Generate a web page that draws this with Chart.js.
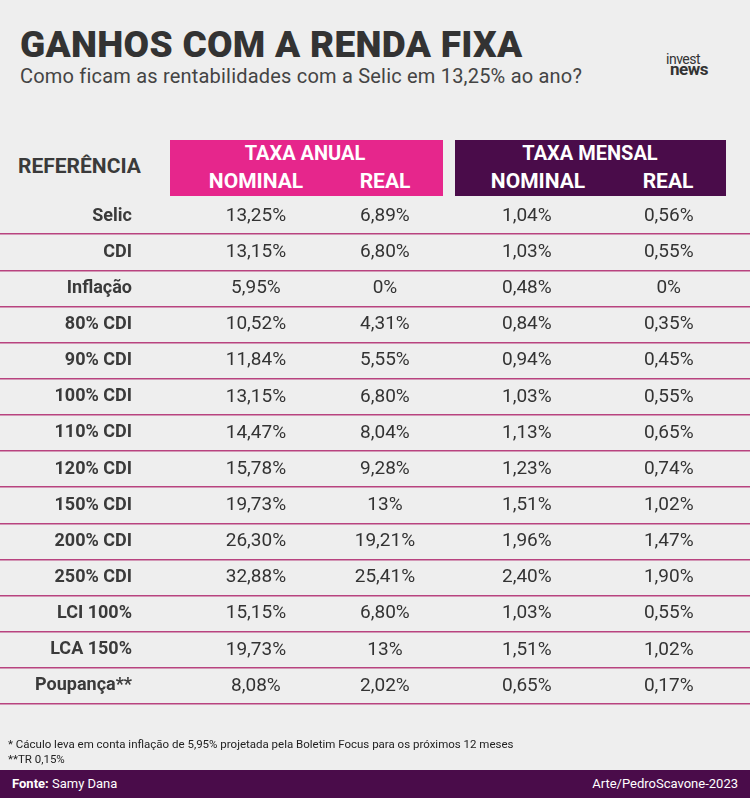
<!DOCTYPE html>
<html lang="pt-BR">
<head>
<meta charset="utf-8">
<script src="https://cdn.jsdelivr.net/npm/chart.js@4"></script>
<style>
  body { margin: 0; background: #ededed; }
  #wrap { position: relative; width: 750px; height: 798px; overflow: hidden; background: #eeeeee;
          font-family: 'Roboto', sans-serif; color: #333; }
  canvas { position: absolute; left: 0; top: 0; }
  .abs { position: absolute; white-space: nowrap; }
  .title { left: 20px; top: 23px; font-size: 37px; font-weight: 900; color: #333; letter-spacing: 0.3px; }
  .sub { left: 20px; top: 64px; font-size: 20px; color: #444; letter-spacing: 0.2px; }
  .logo { left: 666px; top: 54px; font-size: 14px; line-height: 10px; color: #333; letter-spacing: -0.5px; }
  .box { position: absolute; top: 140px; height: 56px; color: #fff; font-weight: 700; }
  .box span { position: absolute; transform: translateX(-50%); }
  .ref { left: 18px; top: 154px; font-size: 21px; font-weight: 700; color: #3a3a3a; }
  .note { left: 8px; font-size: 11.5px; color: #222; }
  .foot { left: 0; top: 770px; width: 750px; height: 28px; background: #4a0c4a; color: #fff; font-size: 13px; }
</style>
</head>
<body>
<div id="wrap">
  <div class="abs title">GANHOS COM A RENDA FIXA</div>
  <div class="abs sub">Como ficam as rentabilidades com a Selic em 13,25% ao ano?</div>
  <div class="abs logo">invest<br><b style="font-size:17px;margin-left:4px">news</b></div>
  <div class="abs ref">REFERÊNCIA</div>
  <div class="box" style="left:170px;width:273px;background:#e6268c">
    <span style="left:135px;top:1px;font-size:20px">TAXA ANUAL</span>
    <span style="left:86px;top:29px;font-size:21px">NOMINAL</span>
    <span style="left:215px;top:29px;font-size:21px">REAL</span>
  </div>
  <div class="box" style="left:455px;width:271px;background:#4a0c4a">
    <span style="left:135px;top:1px;font-size:20px">TAXA MENSAL</span>
    <span style="left:83px;top:29px;font-size:21px">NOMINAL</span>
    <span style="left:213px;top:29px;font-size:21px">REAL</span>
  </div>
  <canvas id="tabela" width="750" height="798"></canvas>
  <div class="abs note" style="top:737px">* Cáculo leva em conta inflação de 5,95% projetada pela Boletim Focus para os próximos 12 meses</div>
  <div class="abs note" style="top:752px">**TR 0,15%</div>
  <div class="abs foot">
    <span class="abs" style="left:12px;top:6px"><b>Fonte:</b> Samy Dana</span>
    <span class="abs" style="right:12px;top:6px">Arte/PedroScavone-2023</span>
  </div>
</div>
<script>
'use strict';

// referências (linhas)
const referencias = ['Selic', 'CDI', 'Inflação', '80% CDI', '90% CDI', '100% CDI', '110% CDI',
  '120% CDI', '150% CDI', '200% CDI', '250% CDI', 'LCI 100%', 'LCA 150%', 'Poupança**'];

// colunas
const anualNominal = ['13,25%', '13,15%', '5,95%', '10,52%', '11,84%', '13,15%', '14,47%',
  '15,78%', '19,73%', '26,30%', '32,88%', '15,15%', '19,73%', '8,08%'];
const anualReal = ['6,89%', '6,80%', '0%', '4,31%', '5,55%', '6,80%', '8,04%',
  '9,28%', '13%', '19,21%', '25,41%', '6,80%', '13%', '2,02%'];
const mensalNominal = ['1,04%', '1,03%', '0,48%', '0,84%', '0,94%', '1,03%', '1,13%',
  '1,23%', '1,51%', '1,96%', '2,40%', '1,03%', '1,51%', '0,65%'];
const mensalReal = ['0,56%', '0,55%', '0%', '0,35%', '0,45%', '0,55%', '0,65%',
  '0,74%', '1,02%', '1,47%', '1,90%', '0,55%', '1,02%', '0,17%'];

const colunas = [anualNominal, anualReal, mensalNominal, mensalReal];
const colunaX = [0, 1, 2.1, 3.2];

// desenha os textos das células nos pontos do gráfico
const celulasPlugin = {
  id: 'celulas',
  afterDatasetsDraw(chart) {
    const ctx = chart.ctx;
    const yScale = chart.scales.y;
    ctx.save();
    ctx.textBaseline = 'middle';
    ctx.fillStyle = '#3a3a3a';
    ctx.font = 'bold 18px Roboto, sans-serif';
    ctx.textAlign = 'right';
    referencias.forEach((r, i) => ctx.fillText(r, 132, yScale.getPixelForValue(i)));
    ctx.font = '19px Roboto, sans-serif';
    ctx.textAlign = 'center';
    ctx.fillStyle = '#333';
    chart.data.datasets.forEach((ds, c) => {
      chart.getDatasetMeta(c).data.forEach((pt, i) => {
        ctx.fillText(ds.textos[i], pt.x, pt.y);
      });
    });
    ctx.restore();
  }
};

new Chart(document.getElementById('tabela'), {
  type: 'scatter',
  data: {
    labels: referencias,
    datasets: colunas.map((col, c) => ({
      textos: col,
      data: col.map((_, i) => ({ x: colunaX[c], y: referencias[i] })),
      pointRadius: 0
    }))
  },
  options: {
    responsive: false,
    animation: false,
    layout: { padding: { top: 198, bottom: 94, left: 0, right: 0 } },
    plugins: { legend: { display: false }, tooltip: { enabled: false } },
    scales: {
      x: { type: 'linear', min: -1.984, max: 3.83, display: false },
      y: {
        type: 'category', labels: referencias, offset: true,
        border: { display: false },
        ticks: { display: false },
        grid: {
          offset: true,
          drawTicks: false,
          lineWidth: 1.5,
          color: (c) => c.index === 0 ? 'rgba(0,0,0,0)' : '#b8437f'
        }
      }
    }
  },
  plugins: [celulasPlugin]
});
</script>
</body>
</html>
